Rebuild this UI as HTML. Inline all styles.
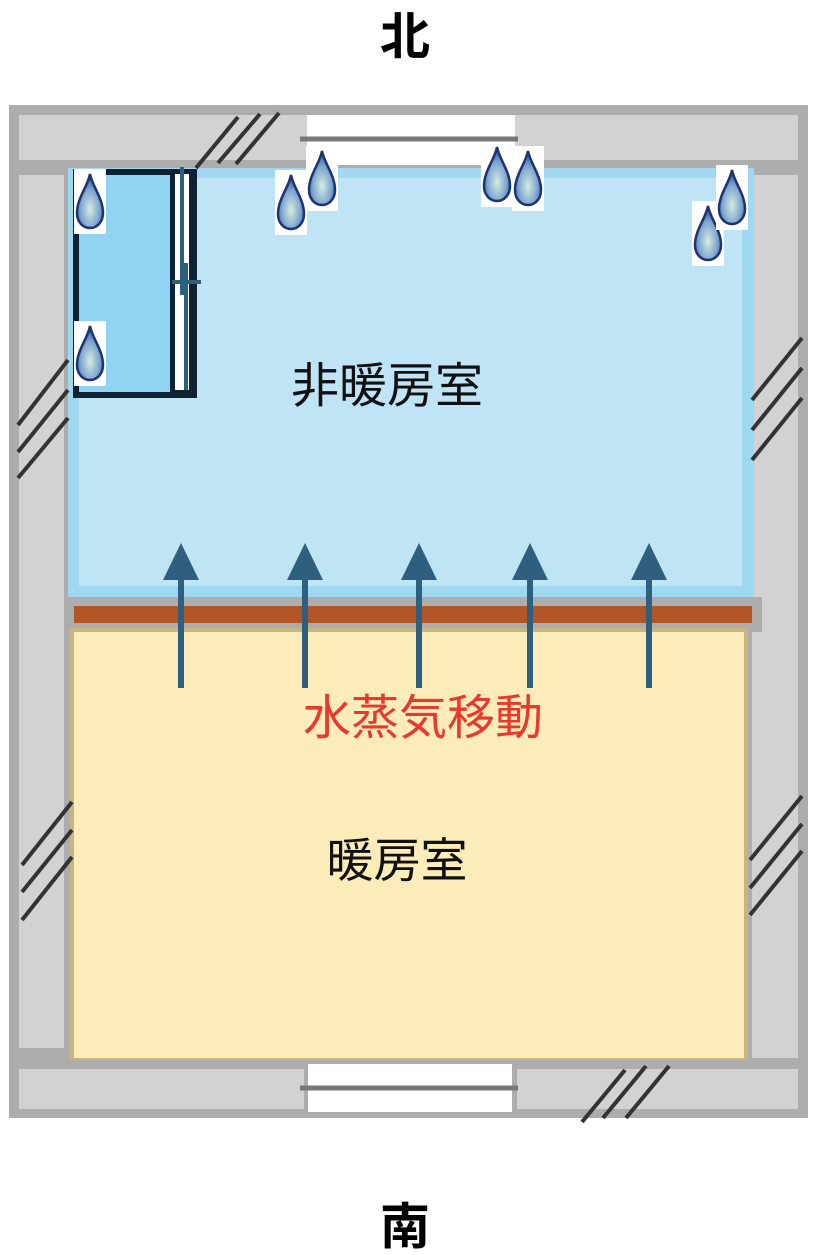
<!DOCTYPE html>
<html><head><meta charset="utf-8"><style>
html,body{margin:0;padding:0;background:#fff;}
svg{display:block;}
text{font-family:"Liberation Sans","Noto Sans CJK JP",sans-serif;}
</style></head><body>
<svg width="816" height="1255" viewBox="0 0 816 1255" xmlns="http://www.w3.org/2000/svg">
<defs>
<radialGradient id="dg" cx="0.5" cy="0.65" r="0.6">
<stop offset="0" stop-color="#d4ece0"/><stop offset="0.6" stop-color="#7fa6cf"/><stop offset="1" stop-color="#2c5aa8"/>
</radialGradient>
<g id="drop">
<rect x="0" y="0" width="32" height="65" fill="#fff"/>
<path d="M16 5 C14 17 3 29 3 44 C3 53 9 59 16 59 C23 59 29 53 29 44 C29 29 18 17 16 5 Z" fill="url(#dg)" stroke="#1d3470" stroke-width="2.5"/>
</g>
</defs>
<text x="405" y="54" font-size="50" font-weight="bold" text-anchor="middle" fill="#000">北</text>
<text x="405" y="1244" font-size="50" font-weight="bold" text-anchor="middle" fill="#000">南</text>
<rect x="9" y="105" width="799" height="1013" fill="#adadad"/>
<rect x="19" y="115" width="779" height="45" fill="#d2d2d2"/>
<rect x="19" y="175" width="45" height="873" fill="#d2d2d2"/>
<rect x="752" y="175" width="46" height="883" fill="#d2d2d2"/>
<rect x="19" y="1069" width="285" height="40" fill="#d2d2d2"/>
<rect x="517" y="1069" width="281" height="40" fill="#d2d2d2"/>
<rect x="307" y="115" width="208" height="50" fill="#fff"/>
<line x1="300" y1="139" x2="518" y2="139" stroke="#777" stroke-width="5"/>
<rect x="308" y="1064" width="204" height="48" fill="#fff"/>
<line x1="300" y1="1088" x2="518" y2="1088" stroke="#777" stroke-width="5"/>
<rect x="68" y="168" width="686" height="429" fill="#a0d8f2"/>
<rect x="79" y="178" width="663" height="408" fill="#bfe4f6"/>
<rect x="68" y="597" width="694" height="35" fill="#adadad"/>
<rect x="74" y="606" width="678" height="17" fill="#b35627"/>
<rect x="70" y="628" width="678" height="432" fill="#c6b57e"/>
<rect x="74" y="632" width="670" height="426" fill="#fcecb9"/>
<rect x="76" y="172" width="118" height="223" fill="#90d3f3" stroke="#0e2233" stroke-width="6"/>
<rect x="170" y="172" width="24" height="223" fill="#0e2233"/>
<rect x="175" y="174" width="14" height="216" fill="#fff"/>
<line x1="182" y1="167" x2="182" y2="295" stroke="#2e5f7f" stroke-width="4"/>
<line x1="186" y1="263" x2="186" y2="390" stroke="#2e5f7f" stroke-width="4"/>
<line x1="172" y1="282" x2="201" y2="282" stroke="#2e5f7f" stroke-width="4"/>
<g stroke="#333" stroke-width="4">
<line x1="196" y1="168" x2="238" y2="117"/><line x1="218" y1="163" x2="260" y2="114"/><line x1="236" y1="164" x2="279" y2="113"/>
<line x1="18" y1="425" x2="68" y2="360"/><line x1="18" y1="452" x2="68" y2="390"/><line x1="18" y1="478" x2="68" y2="418"/>
<line x1="752" y1="400" x2="802" y2="338"/><line x1="752" y1="430" x2="802" y2="368"/><line x1="752" y1="460" x2="802" y2="398"/>
<line x1="22" y1="865" x2="72" y2="802"/><line x1="22" y1="892" x2="72" y2="830"/><line x1="22" y1="920" x2="72" y2="857"/>
<line x1="750" y1="860" x2="802" y2="796"/><line x1="750" y1="888" x2="802" y2="824"/><line x1="750" y1="915" x2="802" y2="851"/>
<line x1="582" y1="1122" x2="625" y2="1070"/><line x1="603" y1="1118" x2="646" y2="1066"/><line x1="626" y1="1118" x2="669" y2="1066"/>
</g>
<g fill="#2e5f7f" stroke="#2e5f7f">
<g transform="translate(181,0)"><line x1="0" y1="688" x2="0" y2="575" stroke-width="6"/><polygon points="0,543 -18,580 18,580" stroke="none"/></g>
<g transform="translate(305,0)"><line x1="0" y1="688" x2="0" y2="575" stroke-width="6"/><polygon points="0,543 -18,580 18,580" stroke="none"/></g>
<g transform="translate(419,0)"><line x1="0" y1="688" x2="0" y2="575" stroke-width="6"/><polygon points="0,543 -18,580 18,580" stroke="none"/></g>
<g transform="translate(530,0)"><line x1="0" y1="688" x2="0" y2="575" stroke-width="6"/><polygon points="0,543 -18,580 18,580" stroke="none"/></g>
<g transform="translate(649,0)"><line x1="0" y1="688" x2="0" y2="575" stroke-width="6"/><polygon points="0,543 -18,580 18,580" stroke="none"/></g>
</g>
<use href="#drop" x="74" y="169"/>
<use href="#drop" x="74" y="321"/>
<use href="#drop" x="275" y="170"/>
<use href="#drop" x="306" y="146"/>
<use href="#drop" x="481" y="142"/>
<use href="#drop" x="512" y="146"/>
<use href="#drop" x="692" y="201"/>
<use href="#drop" x="716" y="165"/>
<text x="387" y="402" font-size="48" text-anchor="middle" fill="#111">非暖房室</text>
<text x="423" y="734" font-size="48" text-anchor="middle" fill="#e8392f">水蒸気移動</text>
<text x="397" y="877" font-size="47" text-anchor="middle" fill="#111">暖房室</text>
</svg>
</body></html>
